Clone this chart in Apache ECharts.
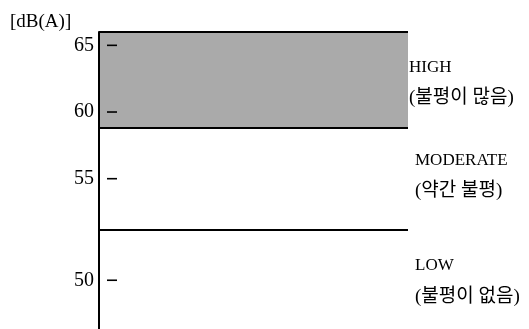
<!DOCTYPE html>
<html><head><meta charset="utf-8">
<script src="https://cdn.jsdelivr.net/npm/echarts@6/dist/echarts.min.js"></script>
<style>html,body{margin:0;padding:0;background:#fff}#c{width:529px;height:329px}</style>
</head><body><div id="c"></div>
<script>
// ---- data ----
const unitLabel = '[dB(A)]';
const tickValues = [65, 60, 55, 50];
const zoneNames = ['HIGH', 'MODERATE', 'LOW'];
const zoneNotes = ['(불평이 많음)', '(약간 불평)', '(불평이 없음)'];
const zoneLower = [58.8, 52.5, 47.6];
const zoneUpper = [66, 58.8, 52.5];

// schematic axis: below 55 dB the drawing is stretched
const BREAK = 55, STRETCH = 1.523;
function toAxis(db) { return db >= BREAK ? db : BREAK - (BREAK - db) * STRETCH; }
function fromAxis(u) { return u >= BREAK ? u : BREAK - (BREAK - u) / STRETCH; }

const yMin = toAxis(zoneLower[zoneLower.length - 1]);
const yMax = toAxis(zoneUpper[0]);
const tickPos = tickValues.map(toAxis);

const serif = '"Liberation Serif", "Times New Roman", serif';
const kr = '"Liberation Serif", "Noto Sans CJK KR", serif';
const labelShift = [[0, 3], [0, -3], [0, 2]];

const chart = echarts.init(document.getElementById('c'), null, {renderer: 'canvas'});

const areas = zoneNames.map((n, i) => {
  const a = {yAxis: toAxis(zoneUpper[i])};
  const b = {yAxis: toAxis(zoneLower[i])};
  a.name = n;
  a.itemStyle = {color: i === 0 ? '#aaaaaa' : 'rgba(0,0,0,0)'};
  a.label = {
    show: true, position: 'right', distance: i === 0 ? 1 : 7, offset: labelShift[i],
    formatter: '{a|' + n + '}\n{b|' + zoneNotes[i] + '}',
    rich: {
      a: {fontFamily: serif, fontSize: 17, color: '#000', lineHeight: 31, align: 'left'},
      b: {fontFamily: kr, fontSize: 19, color: '#000', lineHeight: 31, align: 'left'}
    }
  };
  return [a, b];
});

const boundaryLines = [zoneUpper[0], zoneLower[0], zoneLower[1]].map(v => ({yAxis: toAxis(v)}));

chart.setOption({
  animation: false,
  backgroundColor: '#fff',
  title: {
    text: unitLabel, left: 5, top: 8,
    textStyle: {fontFamily: serif, fontSize: 19, fontWeight: 'normal', color: '#000'}
  },
  grid: {left: 99, right: 121, top: 32, bottom: 0},
  xAxis: {type: 'value', min: 0, max: 1, show: false},
  yAxis: [{
    type: 'value', min: yMin, max: yMax, position: 'left', z: 10,
    axisLine: {show: true, lineStyle: {color: '#000', width: 2}},
    axisTick: {show: false},
    splitLine: {show: false},
    axisLabel: {
      customValues: tickPos, margin: 5,
      fontFamily: serif, fontSize: 20, color: '#000',
      formatter: v => String(Math.round(fromAxis(v)))
    }
  }, {
    type: 'value', min: yMin, max: yMax, position: 'left', z: 10,
    axisLine: {show: false}, axisTick: {show: false}, splitLine: {show: false},
    axisLabel: {
      customValues: tickPos, inside: true, margin: 8,
      formatter: () => '{d|}',
      rich: {d: {width: 10, height: 1.6, backgroundColor: '#000'}}
    }
  }],
  series: [{
    type: 'line', data: [], silent: true, z: 1,
    markArea: {silent: true, data: areas},
    markLine: {
      silent: true, symbol: 'none', label: {show: false},
      lineStyle: {color: '#000', width: 2, type: 'solid'},
      data: boundaryLines
    }
  }]
});
</script></body></html>
